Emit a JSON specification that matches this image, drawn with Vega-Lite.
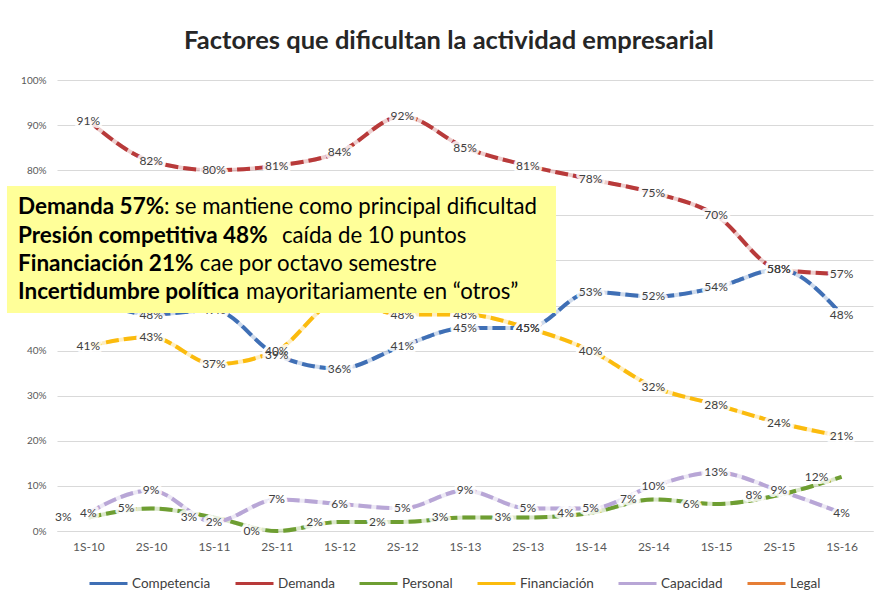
{
  "$schema": "https://vega.github.io/schema/vega-lite/v6.json",
  "width": 816,
  "height": 451,
  "autosize": {"type": "none"},
  "padding": {"left": 57, "top": 80, "right": 10, "bottom": 72},
  "background": "white",
  "config": {"font": "Lato", "view": {"stroke": null}},
  "title": {
    "text": "Factores que dificultan la actividad empresarial",
    "fontSize": 25.5,
    "font": "Lato",
    "fontWeight": "bold",
    "color": "#262626",
    "anchor": "middle",
    "frame": "group",
    "offset": 21,
    "dx": -16
  },
  "datasets": {
    "series": [
      {"periodo": "1S-10", "factor": "Competencia", "valor": 0.52},
      {"periodo": "2S-10", "factor": "Competencia", "valor": 0.48},
      {"periodo": "1S-11", "factor": "Competencia", "valor": 0.49},
      {"periodo": "2S-11", "factor": "Competencia", "valor": 0.39},
      {"periodo": "1S-12", "factor": "Competencia", "valor": 0.36},
      {"periodo": "2S-12", "factor": "Competencia", "valor": 0.41},
      {"periodo": "1S-13", "factor": "Competencia", "valor": 0.45},
      {"periodo": "2S-13", "factor": "Competencia", "valor": 0.45},
      {"periodo": "1S-14", "factor": "Competencia", "valor": 0.53},
      {"periodo": "2S-14", "factor": "Competencia", "valor": 0.52},
      {"periodo": "1S-15", "factor": "Competencia", "valor": 0.54},
      {"periodo": "2S-15", "factor": "Competencia", "valor": 0.58},
      {"periodo": "1S-16", "factor": "Competencia", "valor": 0.48},
      {"periodo": "1S-10", "factor": "Demanda", "valor": 0.91},
      {"periodo": "2S-10", "factor": "Demanda", "valor": 0.82},
      {"periodo": "1S-11", "factor": "Demanda", "valor": 0.80},
      {"periodo": "2S-11", "factor": "Demanda", "valor": 0.81},
      {"periodo": "1S-12", "factor": "Demanda", "valor": 0.84},
      {"periodo": "2S-12", "factor": "Demanda", "valor": 0.92},
      {"periodo": "1S-13", "factor": "Demanda", "valor": 0.85},
      {"periodo": "2S-13", "factor": "Demanda", "valor": 0.81},
      {"periodo": "1S-14", "factor": "Demanda", "valor": 0.78},
      {"periodo": "2S-14", "factor": "Demanda", "valor": 0.75},
      {"periodo": "1S-15", "factor": "Demanda", "valor": 0.70},
      {"periodo": "2S-15", "factor": "Demanda", "valor": 0.58},
      {"periodo": "1S-16", "factor": "Demanda", "valor": 0.57},
      {"periodo": "1S-10", "factor": "Personal", "valor": 0.03},
      {"periodo": "2S-10", "factor": "Personal", "valor": 0.05},
      {"periodo": "1S-11", "factor": "Personal", "valor": 0.03},
      {"periodo": "2S-11", "factor": "Personal", "valor": 0.00},
      {"periodo": "1S-12", "factor": "Personal", "valor": 0.02},
      {"periodo": "2S-12", "factor": "Personal", "valor": 0.02},
      {"periodo": "1S-13", "factor": "Personal", "valor": 0.03},
      {"periodo": "2S-13", "factor": "Personal", "valor": 0.03},
      {"periodo": "1S-14", "factor": "Personal", "valor": 0.04},
      {"periodo": "2S-14", "factor": "Personal", "valor": 0.07},
      {"periodo": "1S-15", "factor": "Personal", "valor": 0.06},
      {"periodo": "2S-15", "factor": "Personal", "valor": 0.08},
      {"periodo": "1S-16", "factor": "Personal", "valor": 0.12},
      {"periodo": "1S-10", "factor": "Financiación", "valor": 0.41},
      {"periodo": "2S-10", "factor": "Financiación", "valor": 0.43},
      {"periodo": "1S-11", "factor": "Financiación", "valor": 0.37},
      {"periodo": "2S-11", "factor": "Financiación", "valor": 0.40},
      {"periodo": "1S-12", "factor": "Financiación", "valor": 0.51},
      {"periodo": "2S-12", "factor": "Financiación", "valor": 0.48},
      {"periodo": "1S-13", "factor": "Financiación", "valor": 0.48},
      {"periodo": "2S-13", "factor": "Financiación", "valor": 0.45},
      {"periodo": "1S-14", "factor": "Financiación", "valor": 0.40},
      {"periodo": "2S-14", "factor": "Financiación", "valor": 0.32},
      {"periodo": "1S-15", "factor": "Financiación", "valor": 0.28},
      {"periodo": "2S-15", "factor": "Financiación", "valor": 0.24},
      {"periodo": "1S-16", "factor": "Financiación", "valor": 0.21},
      {"periodo": "1S-10", "factor": "Capacidad", "valor": 0.04},
      {"periodo": "2S-10", "factor": "Capacidad", "valor": 0.09},
      {"periodo": "1S-11", "factor": "Capacidad", "valor": 0.02},
      {"periodo": "2S-11", "factor": "Capacidad", "valor": 0.07},
      {"periodo": "1S-12", "factor": "Capacidad", "valor": 0.06},
      {"periodo": "2S-12", "factor": "Capacidad", "valor": 0.05},
      {"periodo": "1S-13", "factor": "Capacidad", "valor": 0.09},
      {"periodo": "2S-13", "factor": "Capacidad", "valor": 0.05},
      {"periodo": "1S-14", "factor": "Capacidad", "valor": 0.05},
      {"periodo": "2S-14", "factor": "Capacidad", "valor": 0.10},
      {"periodo": "1S-15", "factor": "Capacidad", "valor": 0.13},
      {"periodo": "2S-15", "factor": "Capacidad", "valor": 0.09},
      {"periodo": "1S-16", "factor": "Capacidad", "valor": 0.04}
    ]
  },
  "resolve": {"scale": {"x": "independent"}},
  "layer": [
    {
      "data": {"name": "series"},
      "encoding": {
        "x": {
          "field": "periodo",
          "type": "ordinal",
          "sort": ["1S-10","2S-10","1S-11","2S-11","1S-12","2S-12","1S-13","2S-13","1S-14","2S-14","1S-15","2S-15","1S-16"],
          "scale": {"type": "point", "padding": 0.5},
          "axis": {"title": null, "labelAngle": 0, "labelFontSize": 12, "labelColor": "#595959", "ticks": false, "domain": true, "domainColor": "#D9D9D9", "labelPadding": 10}
        },
        "y": {
          "field": "valor",
          "type": "quantitative",
          "scale": {"domain": [0, 1]},
          "axis": {"title": null, "values": [0,0.1,0.2,0.3,0.4,0.5,0.6,0.7,0.8,0.9,1], "format": ".0%", "labelFontSize": 10, "labelColor": "#595959", "ticks": false, "domain": false, "gridColor": "#D9D9D9", "labelPadding": 11}
        },
        "color": {
          "field": "factor",
          "type": "nominal",
          "scale": {
            "domain": ["Competencia", "Demanda", "Personal", "Financiación", "Capacidad", "Legal"],
            "range": ["#3F6FB5", "#B83A3A", "#6E9E32", "#FBBB0D", "#B8A6D6", "#E67E35"]
          },
          "legend": {"title": null, "orient": "none", "legendX": 31, "legendY": 483, "direction": "horizontal", "symbolType": "stroke", "symbolStrokeWidth": 3, "symbolSize": 1444, "symbolOpacity": 1, "labelFontSize": 13.5, "labelColor": "#404040", "labelOffset": 3, "columnPadding": 18}
        }
      },
      "layer": [
        {
          "mark": {"type": "line", "interpolate": "monotone", "strokeWidth": 4, "strokeOpacity": 0.25}
        },
        {
          "mark": {"type": "line", "interpolate": "monotone", "strokeWidth": 4, "strokeDash": [13, 5]}
        },
        {
          "transform": [{"filter": "datum.factor !== 'Personal'"}],
          "mark": {"type": "text", "fontSize": 12, "stroke": "white", "strokeWidth": 6, "strokeOpacity": 0.85, "fill": "white", "strokeJoin": "round"},
          "encoding": {"text": {"field": "valor", "type": "quantitative", "format": ".0%"}, "color": {"value": "white"}}
        },
        {
          "transform": [{"filter": "datum.factor !== 'Personal'"}],
          "mark": {"type": "text", "fontSize": 12, "fill": "#404040"},
          "encoding": {"text": {"field": "valor", "type": "quantitative", "format": ".0%"}, "color": {"value": "#404040"}}
        },
        {
          "transform": [{"filter": "datum.factor === 'Personal'"}],
          "mark": {"type": "text", "fontSize": 12, "dx": -25, "stroke": "white", "strokeWidth": 6, "strokeOpacity": 0.85, "fill": "white", "strokeJoin": "round"},
          "encoding": {"text": {"field": "valor", "type": "quantitative", "format": ".0%"}, "color": {"value": "white"}}
        },
        {
          "transform": [{"filter": "datum.factor === 'Personal'"}],
          "mark": {"type": "text", "fontSize": 12, "dx": -25, "fill": "#404040"},
          "encoding": {"text": {"field": "valor", "type": "quantitative", "format": ".0%"}, "color": {"value": "#404040"}}
        }
      ]
    },
    {
      "layer": [
        {
          "data": {"values": [{"nota": "caja"}]},
          "mark": {"type": "rect", "fill": "#FFFF99"},
          "encoding": {
            "x": {"datum": -0.0613, "type": "quantitative", "scale": {"domain": [0, 1], "nice": false}, "axis": null},
            "x2": {"datum": 0.6115},
            "y": {"datum": 0.765, "type": "quantitative"},
            "y2": {"datum": 0.4834}
          }
        },
        {
          "data": {"values": [{"texto": "Demanda 57%"}]},
          "mark": {"type": "text", "align": "left", "baseline": "middle", "fontSize": 22.5, "fontWeight": "bold", "fill": "black"},
          "encoding": {"x": {"datum": -0.0478, "type": "quantitative"}, "y": {"datum": 0.7184, "type": "quantitative"}, "text": {"field": "texto"}}
        },
        {
          "data": {"values": [{"texto": ": se mantiene como principal dificultad"}]},
          "mark": {"type": "text", "align": "left", "baseline": "middle", "fontSize": 22.2, "fill": "black"},
          "encoding": {"x": {"datum": 0.131, "type": "quantitative"}, "y": {"datum": 0.7184, "type": "quantitative"}, "text": {"field": "texto"}}
        },
        {
          "data": {"values": [{"texto": "Presión competitiva 48%"}]},
          "mark": {"type": "text", "align": "left", "baseline": "middle", "fontSize": 22.5, "fontWeight": "bold", "fill": "black"},
          "encoding": {"x": {"datum": -0.0478, "type": "quantitative"}, "y": {"datum": 0.6541, "type": "quantitative"}, "text": {"field": "texto"}}
        },
        {
          "data": {"values": [{"texto": "caída de 10 puntos"}]},
          "mark": {"type": "text", "align": "left", "baseline": "middle", "fontSize": 22.2, "fill": "black"},
          "encoding": {"x": {"datum": 0.2757, "type": "quantitative"}, "y": {"datum": 0.6541, "type": "quantitative"}, "text": {"field": "texto"}}
        },
        {
          "data": {"values": [{"texto": "Financiación 21%"}]},
          "mark": {"type": "text", "align": "left", "baseline": "middle", "fontSize": 22.5, "fontWeight": "bold", "fill": "black"},
          "encoding": {"x": {"datum": -0.0478, "type": "quantitative"}, "y": {"datum": 0.592, "type": "quantitative"}, "text": {"field": "texto"}}
        },
        {
          "data": {"values": [{"texto": "cae por octavo semestre"}]},
          "mark": {"type": "text", "align": "left", "baseline": "middle", "fontSize": 22.2, "fill": "black"},
          "encoding": {"x": {"datum": 0.175, "type": "quantitative"}, "y": {"datum": 0.592, "type": "quantitative"}, "text": {"field": "texto"}}
        },
        {
          "data": {"values": [{"texto": "Incertidumbre política"}]},
          "mark": {"type": "text", "align": "left", "baseline": "middle", "fontSize": 22.5, "fontWeight": "bold", "fill": "black"},
          "encoding": {"x": {"datum": -0.0478, "type": "quantitative"}, "y": {"datum": 0.5299, "type": "quantitative"}, "text": {"field": "texto"}}
        },
        {
          "data": {"values": [{"texto": "mayoritariamente en “otros”"}]},
          "mark": {"type": "text", "align": "left", "baseline": "middle", "fontSize": 22.2, "fill": "black"},
          "encoding": {"x": {"datum": 0.2315, "type": "quantitative"}, "y": {"datum": 0.5299, "type": "quantitative"}, "text": {"field": "texto"}}
        }
      ]
    }
  ]
}
